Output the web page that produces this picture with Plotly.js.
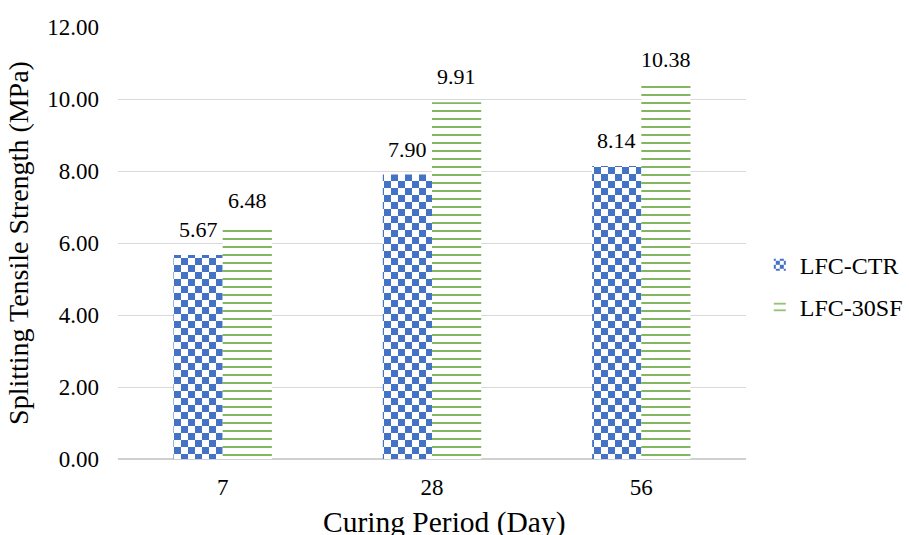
<!DOCTYPE html>
<html>
<head>
<meta charset="utf-8">
<script src="https://cdn.plot.ly/plotly-3.0.1.min.js"></script>
<style>
html,body{margin:0;padding:0;background:#fff;}
#chart{width:909px;height:535px;}
</style>
</head>
<body>
<div id="chart"></div>
<script>
// Data
const categories = ['7', '28', '56'];
const seriesNames = ['LFC-CTR', 'LFC-30SF'];
const ctrValues = [5.67, 7.90, 8.14];
const sfValues = [6.48, 9.91, 10.38];
const yTickVals = [0, 2, 4, 6, 8, 10, 12];
const yTickText = ['0.00', '2.00', '4.00', '6.00', '8.00', '10.00', '12.00'];
const xTitle = 'Curing Period (Day)';
const yTitle = 'Splitting Tensile Strength (MPa)';

const FONT = 'Liberation Serif';
const BLUE = '#4472C4';
const GREEN = '#70AD47';
const BARGAP = 0.53;

const traces = [
  {
    type: 'bar', name: seriesNames[0], x: categories, y: ctrValues, legendgroup: 'a',
    marker: {color: '#ffffff', line: {width: 0},
      pattern: {shape: '.', fgcolor: BLUE, bgcolor: '#ffffff', size: 14, solidity: 0.5, fillmode: 'replace'}}
  },
  {
    type: 'bar', name: seriesNames[1], x: categories, y: sfValues, legendgroup: 'b',
    marker: {color: '#ffffff', line: {width: 0},
      pattern: {shape: '-', fgcolor: GREEN, bgcolor: '#ffffff', size: 8, solidity: 0.22, fillmode: 'replace'}}
  }
];

// value labels, placed through the category axis (index positions) and the y scale
const half = (1 - BARGAP) / 4;
const annotations = [];
[ctrValues, sfValues].forEach((vals, s) => {
  vals.forEach((v, i) => {
    annotations.push({
      xref: 'x', yref: 'y', x: i + (s === 0 ? -half : half), y: v,
      text: v.toFixed(2), showarrow: false, yanchor: 'bottom', xanchor: 'center', yshift: 11,
      font: {family: FONT, size: 22, color: '#000'}
    });
  });
});
// x-axis title
annotations.push({
  xref: 'paper', yref: 'paper', x: 0.52, y: -0.146, xanchor: 'center', yanchor: 'middle',
  text: xTitle, showarrow: false, font: {family: FONT, size: 29.5, color: '#000'}
});

const layout = {
  width: 909, height: 535,
  margin: {l: 118, r: 163, t: 27, b: 76, autoexpand: false},
  paper_bgcolor: '#fff', plot_bgcolor: '#fff',
  font: {family: FONT, color: '#000'},
  barmode: 'group', bargap: BARGAP, bargroupgap: 0,
  showlegend: true,
  legend: {x: 1.022, xanchor: 'left', y: 0.40, yanchor: 'middle',
    font: {family: FONT, size: 24, color: '#000'}, tracegroupgap: 8, itemwidth: 30},
  annotations: annotations,
  xaxis: {
    type: 'category', showgrid: false, showline: false, zeroline: false,
    ticks: '', ticklabelstandoff: 12,
    tickfont: {family: FONT, size: 23, color: '#000'}
  },
  yaxis: {
    range: [0, 12], tickvals: yTickVals, ticktext: yTickText,
    showgrid: true, gridcolor: '#D9D9D9', gridwidth: 1,
    zeroline: true, zerolinecolor: '#D0D0D0', zerolinewidth: 1.5,
    showline: false, ticks: '', ticklabelstandoff: 18,
    tickfont: {family: FONT, size: 23, color: '#000'},
    title: {text: yTitle, font: {family: FONT, size: 28, color: '#000'}, standoff: 10}
  }
};

function checkerize() {
  const ns = 'http://www.w3.org/2000/svg';
  document.querySelectorAll('pattern').forEach(p => {
    const c = p.querySelector('circle');
    if (!c) return;
    const w = parseFloat(p.getAttribute('width'));
    const h = parseFloat(p.getAttribute('height'));
    const fill = c.getAttribute('fill') || c.style.fill;
    c.remove();
    [[0, 0], [w / 2, h / 2]].forEach(([x, y]) => {
      const r = document.createElementNS(ns, 'rect');
      r.setAttribute('x', x); r.setAttribute('y', y);
      r.setAttribute('width', w / 2); r.setAttribute('height', h / 2);
      r.setAttribute('fill', fill);
      p.appendChild(r);
    });
  });
}

Plotly.newPlot('chart', traces, layout, {displayModeBar: false, staticPlot: true}).then(gd => {
  checkerize();
  gd.on('plotly_afterplot', checkerize);
});
</script>
</body>
</html>
